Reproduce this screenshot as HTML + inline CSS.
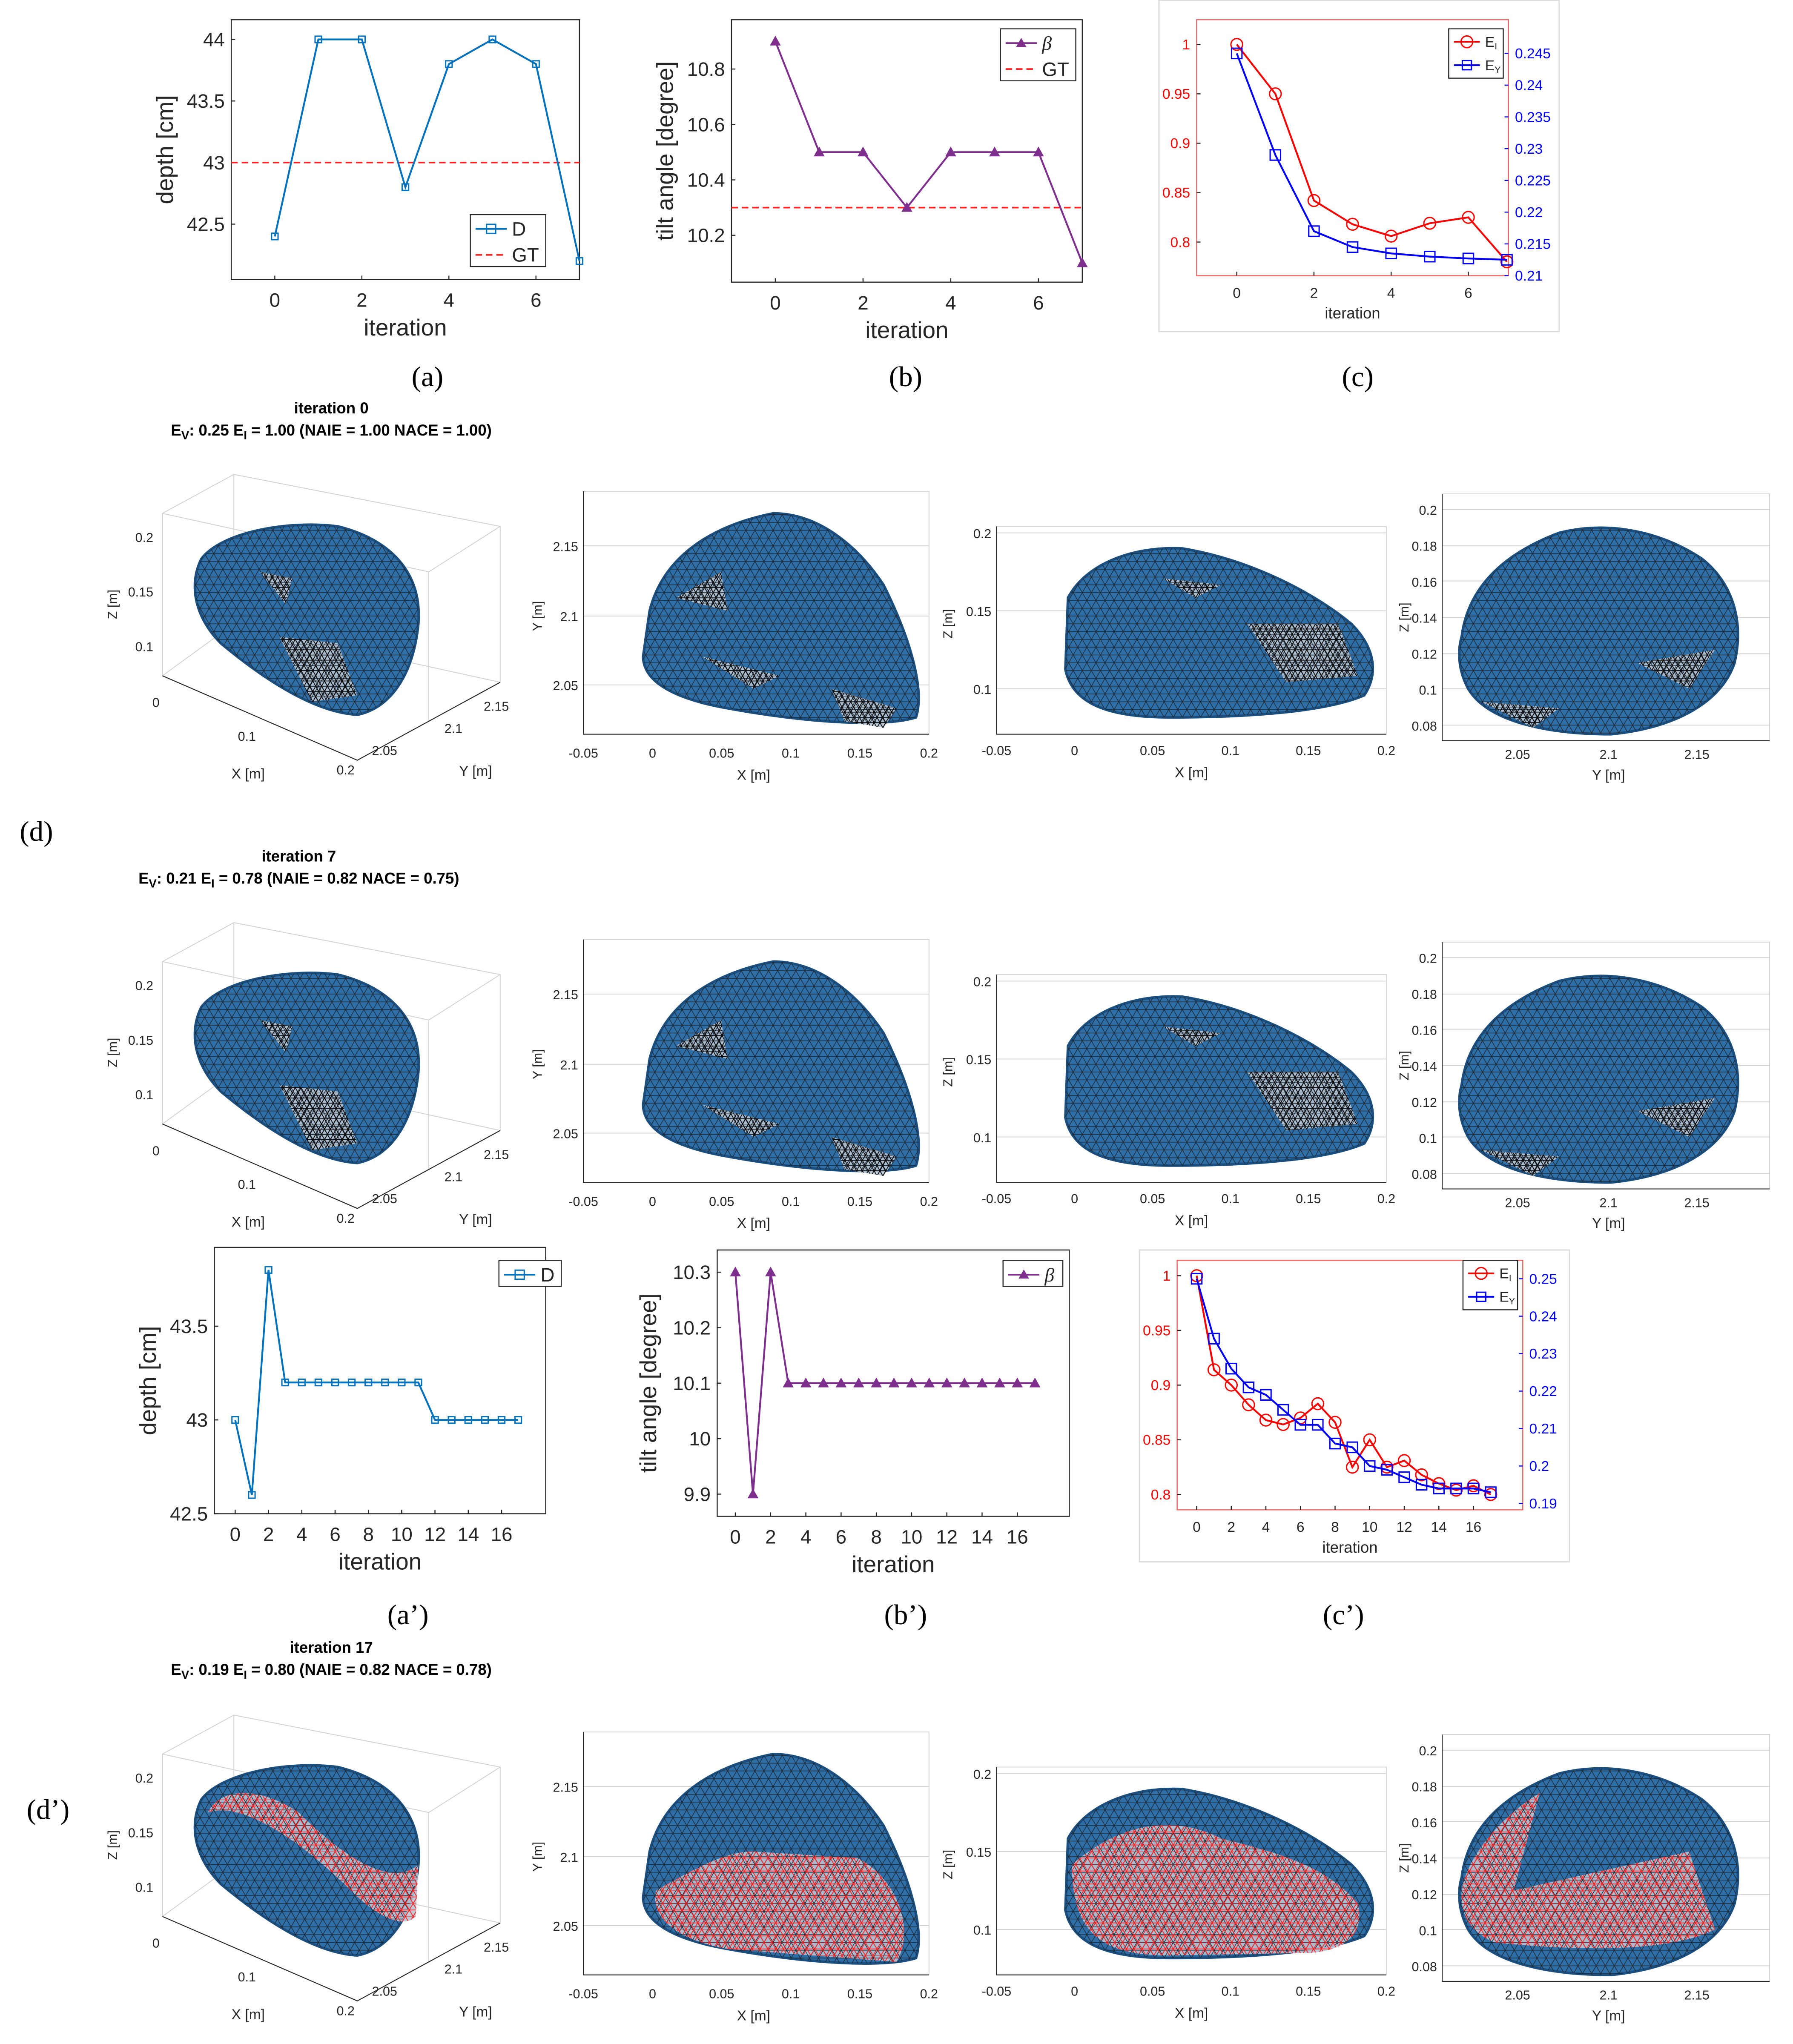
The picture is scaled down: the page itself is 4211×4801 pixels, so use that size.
<!DOCTYPE html>
<html><head><meta charset="utf-8">
<style>
html,body{margin:0;padding:0;background:#fff;}
svg{display:block;}
text{font-family:"Liberation Sans",sans-serif;}
.serif{font-family:"Liberation Serif",serif;}
</style></head>
<body>
<svg id="root" xmlns="http://www.w3.org/2000/svg" width="4211" height="4801" viewBox="0 0 1380 1573">
<defs>
<pattern id="mesh" width="14" height="12" patternUnits="userSpaceOnUse">
<path d="M0 0L14 0M0 6L14 6M0 12L14 12M0 0L7 12M7 0L14 12M7 0L0 12M14 0L7 12" stroke="#1c2a38" stroke-width="0.5" fill="none"/>
</pattern>
<pattern id="meshr" width="12" height="10" patternUnits="userSpaceOnUse">
<path d="M0 0L12 0M0 5L12 5M0 0L6 10M6 0L12 10M6 0L0 10M12 0L6 10" stroke="#ff2020" stroke-width="0.6" fill="none"/>
</pattern>
<pattern id="meshd" width="9" height="8" patternUnits="userSpaceOnUse">
<path d="M0 0L9 0M0 4L9 4M0 0L4.5 8M4.5 0L9 8M4.5 0L0 8M9 0L4.5 8" stroke="#000" stroke-width="0.6" fill="none"/>
</pattern>
</defs>
<g id="charts"></g>
<g id="meshes"></g>

<text class="serif" x="329" y="297" font-size="22" text-anchor="middle">(a)</text>
<text class="serif" x="697" y="297" font-size="22" text-anchor="middle">(b)</text>
<text class="serif" x="1045" y="297" font-size="22" text-anchor="middle">(c)</text>
<text class="serif" x="28" y="647" font-size="22" text-anchor="middle">(d)</text>
<text class="serif" x="314" y="1250" font-size="22" text-anchor="middle">(a’)</text>
<text class="serif" x="697" y="1250" font-size="22" text-anchor="middle">(b’)</text>
<text class="serif" x="1034" y="1250" font-size="22" text-anchor="middle">(c’)</text>
<text class="serif" x="37" y="1400" font-size="22" text-anchor="middle">(d’)</text>

<text x="255" y="318" font-size="12" font-weight="bold" text-anchor="middle">iteration 0</text>
<text x="255" y="335" font-size="12" font-weight="bold" text-anchor="middle">E<tspan font-size="9" dy="3">V</tspan><tspan dy="-3">: 0.25  E</tspan><tspan font-size="9" dy="3">I</tspan><tspan dy="-3"> = 1.00 (NAIE = 1.00  NACE = 1.00)</tspan></text>
<text x="230" y="663" font-size="12" font-weight="bold" text-anchor="middle">iteration 7</text>
<text x="230" y="680" font-size="12" font-weight="bold" text-anchor="middle">E<tspan font-size="9" dy="3">V</tspan><tspan dy="-3">: 0.21  E</tspan><tspan font-size="9" dy="3">I</tspan><tspan dy="-3"> = 0.78 (NAIE = 0.82  NACE = 0.75)</tspan></text>
<text x="255" y="1272" font-size="12" font-weight="bold" text-anchor="middle">iteration 17</text>
<text x="255" y="1289" font-size="12" font-weight="bold" text-anchor="middle">E<tspan font-size="9" dy="3">V</tspan><tspan dy="-3">: 0.19  E</tspan><tspan font-size="9" dy="3">I</tspan><tspan dy="-3"> = 0.80 (NAIE = 0.82  NACE = 0.78)</tspan></text>
</svg>
<script>
const itersA = [0,1,2,3,4,5,6,7];
const depthA = [42.4,44,44,42.8,43.8,44,43.8,42.2];
const gtDepth = 43;
const betaB = [10.9,10.5,10.5,10.3,10.5,10.5,10.5,10.1];
const gtBeta = 10.3;
const eiC = [1,0.95,0.842,0.818,0.806,0.819,0.825,0.78];
const eyC = [0.245,0.229,0.217,0.2145,0.2135,0.213,0.2127,0.2125];
const itersP = [0,1,2,3,4,5,6,7,8,9,10,11,12,13,14,15,16,17];
const depthP = [43,42.6,43.8,43.2,43.2,43.2,43.2,43.2,43.2,43.2,43.2,43.2,43,43,43,43,43,43];
const betaP = [10.3,9.9,10.3,10.1,10.1,10.1,10.1,10.1,10.1,10.1,10.1,10.1,10.1,10.1,10.1,10.1,10.1,10.1];
const eiP = [1,0.914,0.9,0.882,0.868,0.864,0.87,0.883,0.866,0.825,0.85,0.825,0.831,0.818,0.81,0.804,0.808,0.80];
const eyP = [0.25,0.234,0.226,0.221,0.219,0.215,0.211,0.211,0.206,0.205,0.2,0.199,0.197,0.195,0.194,0.194,0.194,0.193];
const ticksA_x = [0,2,4,6];
const ticksA_y = [42.5,43,43.5,44];
const ticksB_y = [10.2,10.4,10.6,10.8];
const ticksC_yl = [0.8,0.85,0.9,0.95,1];
const ticksC_yr = [0.21,0.215,0.22,0.225,0.23,0.235,0.24,0.245];
const ticksP_x = [0,2,4,6,8,10,12,14,16];
const ticksAP_y = [42.5,43,43.5];
const ticksBP_y = [9.9,10,10.1,10.2,10.3];
const ticksCP_yl = [0.8,0.85,0.9,0.95,1];
const ticksCP_yr = [0.19,0.2,0.21,0.22,0.23,0.24,0.25];

const NS = "http://www.w3.org/2000/svg";
const charts = document.getElementById('charts');
function mk(tag, attrs, parent){
  const e = document.createElementNS(NS, tag);
  for (const k in attrs) e.setAttribute(k, attrs[k]);
  (parent||charts).appendChild(e);
  return e;
}
function fmt(v){ return String(+v.toFixed(3)); }

function chart(o){
  const g = mk('g',{});
  
  
  const sx = v => o.bx0 + (v - o.xmin)/(o.xmax - o.xmin)*(o.bx1 - o.bx0);
  const sy = v => o.by1 - (v - o.ymin)/(o.ymax - o.ymin)*(o.by1 - o.by0);
  const syr = o.yrmin!==undefined ? (v => o.by1 - (v - o.yrmin)/(o.yrmax - o.yrmin)*(o.by1 - o.by0)) : null;
  if (o.frame){
    const f = mk('rect',{x:o.frame[0],y:o.frame[1],width:o.frame[2],height:o.frame[3],fill:'#fff',stroke:'#ddd','stroke-width':1},g);
    
    
  }
  const box = mk('rect',{x:o.bx0,y:o.by0,width:o.bx1-o.bx0,height:o.by1-o.by0,fill:'none',stroke:o.boxColor||'#262626','stroke-width':0.8},g);
  
  
  const fs = o.fs;
  o.xticks.forEach(t=>{
    const x = sx(t);
    mk('line',{x1:x,y1:o.by1,x2:x,y2:o.by1-3,stroke:'#262626','stroke-width':0.8},g);
    const tx = mk('text',{x:x,y:o.by1+fs+6,'font-size':fs,'text-anchor':'middle',fill:'#262626'},g);
    tx.textContent = fmt(t);
    
    
  });
  o.yticks.forEach(t=>{
    const y = sy(t);
    mk('line',{x1:o.bx0,y1:y,x2:o.bx0+3,y2:y,stroke:'#262626','stroke-width':0.8},g);
    const tx = mk('text',{x:o.bx0-5,y:y+fs*0.35,'font-size':fs,'text-anchor':'end',fill:o.ylColor||'#262626'},g);
    tx.textContent = fmt(t);
    
    
  });
  if (o.yrticks){
    o.yrticks.forEach(t=>{
      const y = syr(t);
      mk('line',{x1:o.bx1,y1:y,x2:o.bx1-3,y2:y,stroke:'#00f','stroke-width':0.8},g);
      const tx = mk('text',{x:o.bx1+5,y:y+fs*0.35,'font-size':fs,'text-anchor':'start',fill:'#00f'},g);
      tx.textContent = fmt(t);
      
      
    });
  }
  const xl = mk('text',{x:(o.bx0+o.bx1)/2,y:o.by1+fs+6+o.xlfs+4,'font-size':o.xlfs,'text-anchor':'middle',fill:'#262626'},g);
  xl.textContent = 'iteration';
  
  
  if (o.ylabel){
    const yx = o.ylx, yy=(o.by0+o.by1)/2;
    const yl = mk('text',{x:yx,y:yy,'font-size':o.xlfs,'text-anchor':'middle',fill:'#262626',transform:`rotate(-90 ${yx} ${yy})`},g);
    yl.textContent = o.ylabel;
    
    
  }
  if (o.gt!==undefined){
    const gl = mk('line',{x1:o.bx0,y1:sy(o.gt),x2:o.bx1,y2:sy(o.gt),stroke:'#ff2020','stroke-width':1.2,'stroke-dasharray':'5,3'},g);
    
    
  }
  o.series.forEach(s=>{
    const yf = s.right ? syr : sy;
    const pts = s.x.map((v,i)=>sx(v)+','+yf(s.y[i])).join(' ');
    const pl = mk('polyline',{points:pts,fill:'none',stroke:s.color,'stroke-width':1.4},g);
    
    
    s.x.forEach((v,i)=>{
      const cx = sx(v), cy = yf(s.y[i]);
      let m;
      if (s.marker==='sq') m = mk('rect',{x:cx-s.ms,y:cy-s.ms,width:2*s.ms,height:2*s.ms,fill:s.fill||'none',stroke:s.color,'stroke-width':1},g);
      else if (s.marker==='tri') m = mk('polygon',{points:`${cx},${cy-s.ms} ${cx-s.ms},${cy+s.ms*0.8} ${cx+s.ms},${cy+s.ms*0.8}`,fill:s.color,stroke:s.color,'stroke-width':0.8},g);
      else m = mk('circle',{cx:cx,cy:cy,r:s.ms,fill:'none',stroke:s.color,'stroke-width':1},g);
      
      
    });
  });
  if (o.legend){
    const L = o.legend;
    const ll = L.ll || 24;
    const lg = mk('g',{},g);
    
    
    mk('rect',{x:L.x,y:L.y,width:L.w,height:L.h,fill:'#fff',stroke:'#262626','stroke-width':0.8},lg);
    L.items.forEach((it,i)=>{
      const y = L.y + L.rowh*(i+0.5)+1;
      const mx = L.x+4+ll/2;
      mk('line',{x1:L.x+4,y1:y,x2:L.x+4+ll,y2:y,stroke:it.color,'stroke-width':1.3,'stroke-dasharray':it.dash||'none'},lg);
      if (it.marker==='sq') mk('rect',{x:mx-3.5,y:y-3.5,width:7,height:7,fill:it.fill||'none',stroke:it.color},lg);
      if (it.marker==='tri') mk('polygon',{points:`${mx},${y-4} ${mx-4},${y+3} ${mx+4},${y+3}`,fill:it.color},lg);
      if (it.marker==='ci') mk('circle',{cx:mx,cy:y,r:4.5,fill:'none',stroke:it.color},lg);
      const t = mk('text',{x:L.x+8+ll,y:y+L.fs*0.35,'font-size':L.fs,fill:'#262626'},lg);
      t.innerHTML = it.label;
      
      
    });
  }
}

chart({name:'chart-a-depth',bx0:178,bx1:446,by0:15,by1:215,xmin:-1,xmax:7,ymin:42.05,ymax:44.16,
  xticks:ticksA_x,yticks:ticksA_y,fs:15,xlfs:18,ylabel:'depth [cm]',ylx:133,gt:gtDepth,
  series:[{name:'depth',x:itersA,y:depthA,color:'#0072bd',marker:'sq',ms:2.5}],
  legend:{x:362,y:165,w:58,h:40,rowh:20,fs:15,items:[{label:'D',color:'#0072bd',marker:'sq'},{label:'GT',color:'#ff2020',dash:'5,3'}]}});
chart({name:'chart-b-tilt',bx0:563,bx1:833,by0:15,by1:217,xmin:-1,xmax:7,ymin:10.031,ymax:10.978,
  xticks:ticksA_x,yticks:ticksB_y,fs:15,xlfs:18,ylabel:'tilt angle [degree]',ylx:518,gt:gtBeta,
  series:[{name:'beta',x:itersA,y:betaB,color:'#7e2f8e',marker:'tri',ms:3.5}],
  legend:{x:770,y:22,w:58,h:40,rowh:20,fs:15,items:[{label:'<tspan font-style="italic" class="serif">β</tspan>',color:'#7e2f8e',marker:'tri'},{label:'GT',color:'#ff2020',dash:'5,3'}]}});
chart({name:'chart-c-errors',frame:[892,0,308,255],bx0:921,bx1:1161,by0:15,by1:212,xmin:-1.04,xmax:7.04,ymin:0.766,ymax:1.025,yrmin:0.21,yrmax:0.2503,boxColor:'#ff6060',
  xticks:ticksA_x,yticks:ticksC_yl,yrticks:ticksC_yr,fs:11,xlfs:12,ylColor:'#ff0000',
  series:[{name:'ei',x:itersA,y:eiC,color:'#ff0000',marker:'ci',ms:4.5},{name:'ey',x:itersA,y:eyC,color:'#0000ff',marker:'sq',ms:4,right:true}],
  legend:{x:1115,y:22,w:42,h:38,rowh:18,fs:11,ll:20,items:[{label:'E<tspan font-size="7" dy="2">I</tspan>',color:'#ff0000',marker:'ci'},{label:'E<tspan font-size="7" dy="2">Y</tspan>',color:'#0000ff',marker:'sq'}]}});
chart({name:'chart-a-prime-depth',bx0:165,bx1:420,by0:960,by1:1165,xmin:-1.25,xmax:18.65,ymin:42.5,ymax:43.92,
  xticks:ticksP_x,yticks:ticksAP_y,fs:15,xlfs:18,ylabel:'depth [cm]',ylx:120,
  series:[{name:'depth',x:itersP,y:depthP,color:'#0072bd',marker:'sq',ms:2.5}],
  legend:{x:384,y:970,w:48,h:20,rowh:20,fs:15,items:[{label:'D',color:'#0072bd',marker:'sq'}]}});
chart({name:'chart-b-prime-tilt',bx0:552,bx1:823,by0:962,by1:1167,xmin:-1.03,xmax:18.95,ymin:9.86,ymax:10.34,
  xticks:ticksP_x,yticks:ticksBP_y,fs:15,xlfs:18,ylabel:'tilt angle [degree]',ylx:505,
  series:[{name:'beta',x:itersP,y:betaP,color:'#7e2f8e',marker:'tri',ms:3.5}],
  legend:{x:772,y:970,w:46,h:20,rowh:20,fs:15,items:[{label:'<tspan font-style="italic" class="serif">β</tspan>',color:'#7e2f8e',marker:'tri'}]}});
chart({name:'chart-c-prime-errors',frame:[877,962,331,240],bx0:906,bx1:1172,by0:970,by1:1162,xmin:-1.13,xmax:18.85,ymin:0.786,ymax:1.014,yrmin:0.1883,yrmax:0.2549,boxColor:'#ff6060',
  xticks:ticksP_x,yticks:ticksCP_yl,yrticks:ticksCP_yr,fs:11,xlfs:12,ylColor:'#ff0000',
  series:[{name:'ei',x:itersP,y:eiP,color:'#ff0000',marker:'ci',ms:4.5},{name:'ey',x:itersP,y:eyP,color:'#0000ff',marker:'sq',ms:4,right:true}],
  legend:{x:1126,y:970,w:42,h:38,rowh:18,fs:11,ll:20,items:[{label:'E<tspan font-size="7" dy="2">I</tspan>',color:'#ff0000',marker:'ci'},{label:'E<tspan font-size="7" dy="2">Y</tspan>',color:'#0000ff',marker:'sq'}]}});

const meshes = document.getElementById('meshes');
function txt(p,x,y,s,fs,anchor,rot){
  const t = mk('text',{x:x,y:y,'font-size':fs||10,'text-anchor':anchor||'middle',fill:'#262626'},p);
  if (rot) t.setAttribute('transform',`rotate(-90 ${x} ${y})`);
  t.textContent = s;
  
  
}
function blob(p,d,red,patches){
  mk('path',{d:d,fill:'#2f6fa8',stroke:'#1b4f80','stroke-width':2},p);
  (patches||[]).forEach(q=>mk('path',{d:q,fill:red?'#b9c3d2':'#b8c6d4',opacity:0.9},p));
  mk('path',{d:d,fill:'url(#mesh)'},p);
  (patches||[]).forEach(q=>mk('path',{d:q,fill:red?'url(#meshr)':'url(#meshd)'},p));
}
const rows = [
 {dy:0,red:false},{dy:345,red:false},{dy:955,red:true}
];
rows.forEach((r,ri)=>{
  const g = mk('g',{transform:`translate(0 ${r.dy})`},meshes);
  
  
  const g3 = mk('g',{},g);
  
  
  const gl = {stroke:'#d0d0d0','stroke-width':0.6,fill:'none'};
  mk('path',Object.assign({d:'M125 520L125 395L180 365L385 405L385 525L275 585L125 520M180 365L180 480L385 525M180 480L125 520M125 395L330 440L385 405M330 440L330 555'},gl),g3);
  mk('path',{d:'M125 520L275 585L385 525',stroke:'#262626','stroke-width':0.7,fill:'none'},g3);
  txt(g3,118,417,'0.2',10,'end');txt(g3,118,459,'0.15',10,'end');txt(g3,118,501,'0.1',10,'end');
  txt(g3,90,465,'Z [m]',10,'middle',true);
  txt(g3,120,544,'0',10);txt(g3,190,570,'0.1',10);txt(g3,266,596,'0.2',10);txt(g3,191,599,'X [m]',11);
  txt(g3,296,581,'2.05',10);txt(g3,349,564,'2.1',10);txt(g3,382,547,'2.15',10);txt(g3,366,597,'Y [m]',11);
  blob(g3,'M155 430C170 410 220 400 260 405C300 415 325 440 322 480C318 520 300 545 275 550C240 548 200 520 170 495C150 475 145 450 155 430Z',r.red,
    r.red?['M160 440C190 430 240 470 270 500C290 520 310 530 320 520L322 480C300 500 260 470 230 440C200 420 170 420 160 440Z']:['M215 490L260 495L275 535L240 540Z','M200 440L225 445L220 465Z']);
  const gxy = mk('g',{},g);
  
  
  mk('path',Object.assign({d:'M449 378L715 378L715 565M449 420L715 420M449 474L715 474M449 527L715 527'},gl),gxy);
  mk('path',{d:'M449 378L449 565L715 565',stroke:'#262626','stroke-width':0.7,fill:'none'},gxy);
  [-0.05,0,0.05,0.1,0.15,0.2].forEach((v,i)=>txt(gxy,449+53.2*i,583,String(v),10));
  txt(gxy,445,424,'2.15',10,'end');txt(gxy,445,478,'2.1',10,'end');txt(gxy,445,531,'2.05',10,'end');
  txt(gxy,417,474,'Y [m]',10,'middle',true);txt(gxy,580,600,'X [m]',11);
  blob(gxy,'M500 470C510 430 545 405 595 395C630 395 660 420 680 450C700 490 712 530 705 552C680 560 620 556 560 545C520 538 495 525 495 505Z',r.red,
    r.red?['M505 500C540 480 560 470 580 470L660 475C690 490 705 530 690 555L560 545C520 538 500 520 505 500Z']:['M540 505L600 520L580 530Z','M640 530L690 545L680 560L650 555Z','M520 460L555 440L560 470Z']);
  const gxz = mk('g',{},g);
  
  
  mk('path',Object.assign({d:'M767 405L1067 405L1067 565M767 410L1067 410M767 470L1067 470M767 530L1067 530'},gl),gxz);
  mk('path',{d:'M767 405L767 565L1067 565',stroke:'#262626','stroke-width':0.7,fill:'none'},gxz);
  [-0.05,0,0.05,0.1,0.15,0.2].forEach((v,i)=>txt(gxz,767+60*i,581,String(v),10));
  txt(gxz,763,414,'0.2',10,'end');txt(gxz,763,474,'0.15',10,'end');txt(gxz,763,534,'0.1',10,'end');
  txt(gxz,733,480,'Z [m]',10,'middle',true);txt(gxz,917,598,'X [m]',11);
  blob(gxz,'M822 460C835 435 870 420 910 422C960 430 1010 455 1040 480C1060 500 1060 520 1050 535C1020 548 960 552 900 552C850 552 825 540 820 515Z',r.red,
    r.red?['M825 480C860 450 900 440 940 460C980 470 1020 480 1045 510C1050 530 1040 545 1010 548L900 550C850 550 825 535 825 480Z']:['M960 480L1030 480L1045 520L990 525Z','M895 445L940 450L920 460Z']);
  const gyz = mk('g',{},g);
  
  
  mk('path',Object.assign({d:'M1110 380L1362 380L1362 570M1110 392L1362 392M1110 420L1362 420M1110 447L1362 447M1110 475L1362 475M1110 503L1362 503M1110 530L1362 530M1110 558L1362 558'},gl),gyz);
  mk('path',{d:'M1110 380L1110 570L1362 570',stroke:'#262626','stroke-width':0.7,fill:'none'},gyz);
  ['0.2','0.18','0.16','0.14','0.12','0.1','0.08'].forEach((v,i)=>txt(gyz,1106,396+27.7*i,v,10,'end'));
  txt(gyz,1168,584,'2.05',10);txt(gyz,1238,584,'2.1',10);txt(gyz,1306,584,'2.15',10);
  txt(gyz,1084,475,'Z [m]',10,'middle',true);txt(gyz,1238,600,'Y [m]',11);
  blob(gyz,'M1125 490C1130 450 1160 425 1200 410C1240 400 1280 410 1310 430C1335 450 1342 480 1335 510C1325 540 1290 560 1240 565C1190 565 1145 555 1130 530C1122 515 1122 500 1125 490Z',r.red,
    r.red?['M1125 500C1130 470 1160 440 1185 425L1165 500L1300 470L1320 530C1280 550 1200 545 1150 540C1128 530 1124 515 1125 500Z']:['M1140 540L1200 545L1180 560Z','M1260 510L1320 500L1300 530Z']);
});
</script>
</body></html>
